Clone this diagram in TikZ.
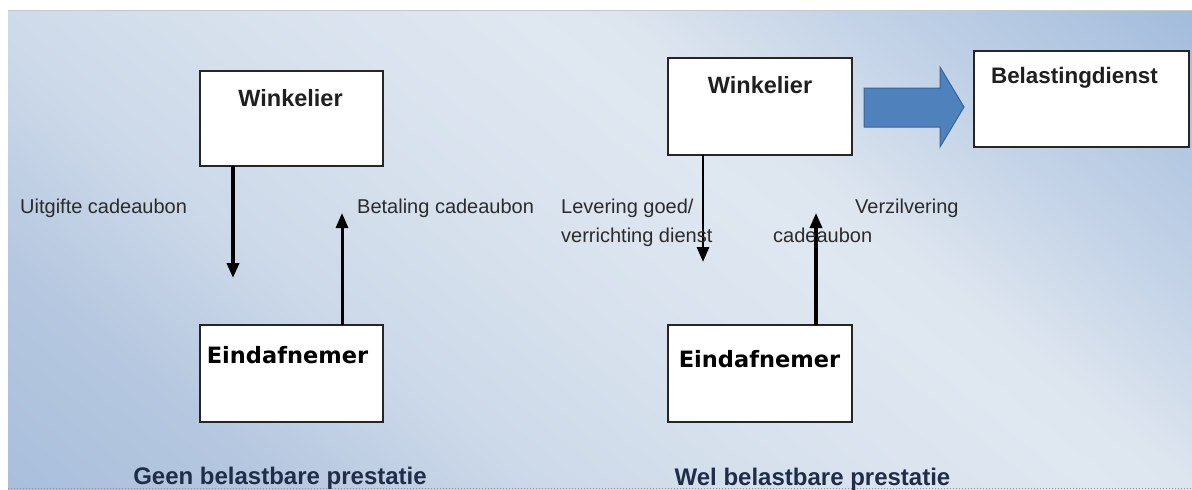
\documentclass[tikz,border=0pt]{standalone}
\usepackage{fontspec}
\setmainfont{Liberation Sans}
\newfontfamily\dejavu{DejaVu Sans}
\usetikzlibrary{arrows.meta,calc}

% panel background colours, lower-left to upper-right
\definecolor{pA}{HTML}{A4BBDA}
\definecolor{pB}{HTML}{A9BFDC}
\definecolor{pC}{HTML}{B6C8E0}
\definecolor{pD}{HTML}{CCD9E9}
\definecolor{pE}{HTML}{D7E1ED}
\definecolor{pF}{HTML}{DFE7F1}
\definecolor{pG}{HTML}{DDE5EF}
\definecolor{pH}{HTML}{C6D5E8}
\definecolor{pI}{HTML}{A3BCDC}
\definecolor{pJ}{HTML}{95B1D6}
\definecolor{arrowblue}{HTML}{4F81BD}
\definecolor{arrowedge}{HTML}{3A6396}
\definecolor{navytext}{HTML}{1F2D48}
\definecolor{labeltext}{HTML}{2B2B2B}

\pgfdeclarehorizontalshading{panelshade}{100bp}{%
  color(0bp)=(pA); color(25bp)=(pA); color(28.5bp)=(pB); color(34bp)=(pC);
  color(39bp)=(pD); color(44bp)=(pE); color(50bp)=(pF); color(52bp)=(pG);
  color(56bp)=(pH); color(63.5bp)=(pI); color(75bp)=(pJ); color(100bp)=(pJ)}

\tikzset{
  box/.style={draw=black!85, line width=2pt, fill=white, inner sep=0pt, outer sep=0pt},
  wtext/.style={font=\bfseries\fontsize{23.5pt}{28pt}\selectfont, text=black!88, inner sep=0pt},
  etext/.style={font=\dejavu\bfseries\fontsize{22.5pt}{27pt}\selectfont, text=black, inner sep=0pt},
  btext/.style={font=\bfseries\fontsize{22.4pt}{27pt}\selectfont, text=black!88, inner sep=0pt},
  ltext/.style={font=\fontsize{20pt}{24pt}\selectfont, text=labeltext, inner sep=0pt, anchor=base west},
  captext/.style={font=\bfseries\fontsize{24pt}{29pt}\selectfont, text=navytext, inner sep=0pt, anchor=base},
  conn/.style={draw=black, line width=3pt, -{Triangle[width=12pt,length=15pt]}},
}

\begin{document}
\begin{tikzpicture}[x=1pt,y=-1pt]
\useasboundingbox (0,0) rectangle (1192,490);
\fill[white] (0,0) rectangle (1192,490);

% gradient panel
\begin{scope}
  \clip (8,10) rectangle (1192,490);
  \shade[shading=panelshade, shading angle=50.8] (0,-555) rectangle (1600,1045);
\end{scope}
\draw[black!22, line width=1pt] (8,10.5) -- (1192,10.5);
\draw[black!45, line width=1pt, dash pattern=on 1pt off 2pt] (8,488.5) -- (1192,488.5);

% left diagram: no taxable supply
\node[box, minimum width=183pt, minimum height=95pt] (w1) at (291.5,118.5) {};
\node[box, minimum width=183pt, minimum height=97pt] (e1) at (291.5,373.5) {};
\node[wtext, anchor=base] (w1t) at (290.5,106) {Winkelier};
\node[etext, anchor=base] (e1t) at (287.5,363) {Eindafnemer};

\coordinate (a1) at (233,278);
\coordinate (a2) at (342,213);
\draw[conn, line width=3.5pt] (w1.south -| a1) -- (a1);
\draw[conn] (e1.north -| a2) -- (a2);

\node[ltext] (l1) at (20,213) {Uitgifte cadeaubon};
\node[ltext] (l2) at (357,213) {Betaling cadeaubon};
\node[captext] (c1) at (280,484) {Geen belastbare prestatie};

% right diagram: taxable supply
\node[box, minimum width=184pt, minimum height=97pt] (w2) at (760,106.5) {};
\node[box, minimum width=184pt, minimum height=97pt] (e2) at (760,373.5) {};
\node[box, minimum width=215pt, minimum height=96pt] (bd) at (1081.5,99) {};
\node[wtext, anchor=base] (w2t) at (760,93) {Winkelier};
\node[etext, anchor=base] (e2t) at (759.5,367) {Eindafnemer};
\node[btext, anchor=base] (bdt) at (1074.5,83) {Belastingdienst};

\coordinate (a3) at (703,262);
\coordinate (a4) at (816,213);
\draw[conn, line width=2.8pt] (w2.south -| a3) -- (a3);
\draw[conn, line width=3.2pt] (e2.north -| a4) -- (a4);

% block arrow towards the tax office
\filldraw[fill=arrowblue, draw=arrowedge, line width=1pt, line join=miter]
  ($(w2.east)+(12,-18.5)$) -- ($(w2.east)+(88,-18.5)$) -- ($(w2.east)+(88,-39.5)$)
  -- ($(bd.west)+(-10,8)$)
  -- ($(w2.east)+(88,40.5)$) -- ($(w2.east)+(88,20.5)$) -- ($(w2.east)+(12,20.5)$) -- cycle;

\node[ltext] (l3) at (561,213) {Levering goed/};
\node[ltext] (l4) at (561,242) {verrichting dienst};
\node[ltext] (l5) at (855,213) {Verzilvering};
\node[ltext] (l6) at (773,242) {cadeaubon};
\node[captext] (c2) at (812.5,485) {Wel belastbare prestatie};
\end{tikzpicture}
\end{document}
